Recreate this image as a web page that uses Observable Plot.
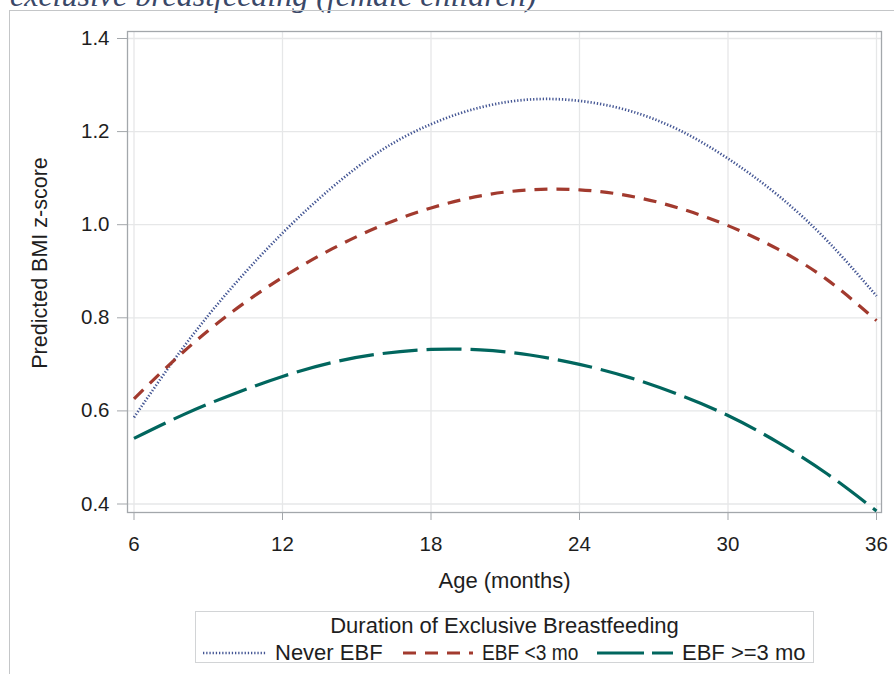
<!DOCTYPE html>
<html>
<head>
<meta charset="utf-8">
<script src="https://cdn.jsdelivr.net/npm/d3@7"></script>
<script src="https://cdn.jsdelivr.net/npm/@observablehq/plot@0.6"></script>
<style>
  html, body { margin: 0; padding: 0; background: #fff; }
  #wrap { position: relative; width: 894px; height: 674px; overflow: hidden; background: #fff;
          font-family: "Liberation Sans", Arial, sans-serif; color: #1e1e1e; }
  #title { position: absolute; left: 10px; top: -21px; white-space: nowrap;
           font-family: "Liberation Serif", "Times New Roman", serif; font-style: italic;
           font-size: 32px; line-height: 32px; color: #3a4868; }
  #border { position: absolute; left: 9px; top: 10px; width: 900px; height: 700px;
            border-left: 1px solid #c4c6c8; border-top: 1px solid #c4c6c8; pointer-events: none; z-index: 5; }
  #chart { position: absolute; left: 0; top: 0; }
  #legend { position: absolute; left: 195px; top: 611px; width: 619px; height: 52px;
            border: 1px solid #d2d4d6; box-sizing: border-box; }
  #legend .ttl { position: absolute; left: 0; right: 0; top: 1px; text-align: center; font-size: 22px; line-height: 26px; }
  #legend .lab { position: absolute; top: 28px; font-size: 22px; line-height: 26px; white-space: nowrap; transform-origin: 0 50%; }
  #legend svg { position: absolute; top: 37px; }
</style>
</head>
<body>
<div id="wrap">
  <div id="title">exclusive breastfeeding (female children)</div>
  <div id="chart"></div>
  <div id="legend"></div>
  <div id="border"></div>
</div>
<script>
// ---- data ----
const months   = [6, 8, 10, 12, 14, 16, 18, 20, 22, 24, 26, 28, 30, 32, 34, 36];
const neverEBF = [0.586, 0.737, 0.868, 0.982, 1.080, 1.160, 1.216, 1.252, 1.269, 1.266, 1.245, 1.204, 1.142, 1.064, 0.966, 0.847];
const ebfLt3   = [0.626, 0.727, 0.814, 0.887, 0.948, 0.998, 1.036, 1.062, 1.075, 1.075, 1.062, 1.036, 0.998, 0.948, 0.882, 0.794];
const ebfGe3   = [0.541, 0.592, 0.636, 0.674, 0.704, 0.723, 0.732, 0.731, 0.720, 0.700, 0.672, 0.635, 0.590, 0.533, 0.465, 0.385];

const seriesNames  = ["Never EBF", "EBF <3 mo", "EBF >=3 mo"];
const seriesValues = [neverEBF, ebfLt3, ebfGe3];
const seriesColors = ["#445694", "#A23A2E", "#01665E"];

const xTicks = [6, 12, 18, 24, 30, 36];
const yTicks = [0.4, 0.6, 0.8, 1.0, 1.2, 1.4];

const xLabel = "Age (months)";
const yLabel = "Predicted BMI z-score";
const legendTitle = "Duration of Exclusive Breastfeeding";

// ---- styles ----
const dash   = ["1.3,1.9", "13,9", "35,9"];
const widths = [2.7, 3.2, 3.2];

const rows = [];
seriesNames.forEach((name, i) => {
  months.forEach((m, j) => rows.push({series: name, age: m, z: seriesValues[i][j]}));
});

const lineMarks = seriesNames.map((name, i) =>
  Plot.line(rows.filter(d => d.series === name), {
    x: "age", y: "z", stroke: seriesColors[i], strokeWidth: widths[i],
    strokeDasharray: dash[i], curve: "natural", strokeLinecap: "butt"
  })
);

const gridColor = "#e6e7e8";
const axisColor = "#a3a7ab";
const textColor = "#1e1e1e";

const chart = Plot.plot({
  width: 894,
  height: 600,
  marginLeft: 127, marginRight: 13, marginTop: 31, marginBottom: 88,
  insetLeft: 6.5, insetRight: 5, insetTop: 7, insetBottom: 8.5,
  style: { fontFamily: "'Liberation Sans', Arial, sans-serif", fontSize: "20px", color: textColor, background: "transparent" },
  x: { domain: [6, 36] },
  y: { domain: [0.4, 1.4] },
  marks: [
    Plot.gridX(xTicks, { stroke: gridColor, strokeOpacity: 1, strokeWidth: 1.3 }),
    Plot.gridY(yTicks, { stroke: gridColor, strokeOpacity: 1, strokeWidth: 1.3 }),
    Plot.frame({ stroke: axisColor, strokeWidth: 1.3 }),
    Plot.axisX(xTicks, { tickSize: 8, tickPadding: 16, stroke: axisColor, fill: textColor, fontSize: 20.5, label: null, tickFormat: d3.format("d") }),
    Plot.axisY(yTicks, { tickSize: 10, tickPadding: 8, stroke: axisColor, fill: textColor, fontSize: 20.5, label: null, tickFormat: d3.format(".1f") }),
    ...lineMarks,
    Plot.text([xLabel], { frameAnchor: "bottom", dy: 68, text: d => d, fontSize: 22, fill: textColor, lineAnchor: "middle", textAnchor: "middle" }),
    Plot.text([yLabel], { frameAnchor: "left", dx: -87, dy: -9, rotate: -90, text: d => d, fontSize: 21.5, fill: textColor, lineAnchor: "middle", textAnchor: "middle" })
  ]
});
document.getElementById("chart").appendChild(chart);

// ---- legend ----
const legend = document.getElementById("legend");
const ttl = document.createElement("div");
ttl.className = "ttl";
ttl.textContent = legendTitle;
legend.appendChild(ttl);

const swLeft  = [7, 207, 401];
const swWidth = [64, 70, 76];
const txLeft  = [79, 286, 486];
const txScale = [1, 0.87, 1];
const swDash  = ["1.3,1.9", "13,9", "47,8"];
seriesNames.forEach((name, i) => {
  const svg = d3.create("svg").attr("width", swWidth[i]).attr("height", 8)
    .style("left", swLeft[i] + "px");
  svg.append("line").attr("x1", 0).attr("x2", swWidth[i]).attr("y1", 4).attr("y2", 4)
    .attr("stroke", seriesColors[i]).attr("stroke-width", widths[i])
    .attr("stroke-dasharray", swDash[i]);
  legend.appendChild(svg.node());
  const lab = document.createElement("div");
  lab.className = "lab";
  lab.style.left = txLeft[i] + "px";
  lab.style.transform = `scaleX(${txScale[i]})`;
  lab.textContent = name;
  legend.appendChild(lab);
});
</script>
</body>
</html>
